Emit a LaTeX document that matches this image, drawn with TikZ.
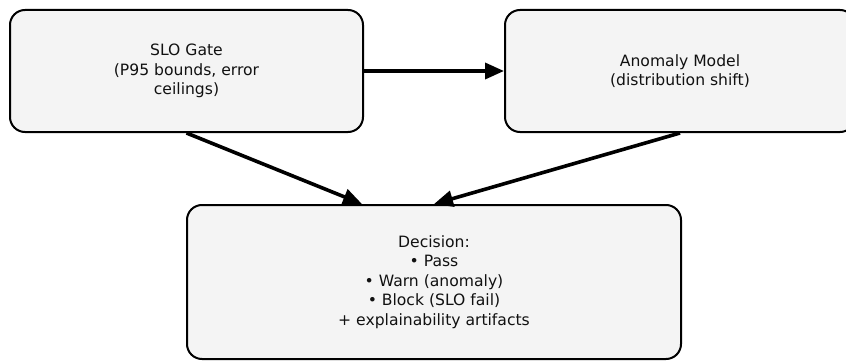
\documentclass[tikz,border=0pt]{standalone}
\usepackage{fontspec}
\setmainfont{DejaVu Sans}
\usetikzlibrary{arrows.meta}
\definecolor{boxfill}{HTML}{F4F4F4}
\definecolor{ink}{HTML}{111111}
\tikzset{
  stagebox/.style={draw=black, line width=2pt, fill=boxfill, rounded corners=15pt,
    align=center, inner sep=0pt, text=ink,
    font=\fontsize{15.6}{19.5}\selectfont},
  flow/.style={line width=3.6pt, -{Triangle[length=19pt,width=16pt]}}
}
\begin{document}
\begin{tikzpicture}[x=1pt,y=-1pt]
  \clip (0,0) rectangle (846,361);
  \fill[white] (0,0) rectangle (846,361);
  % upper row of boxes
  \node[stagebox, minimum width=353pt, minimum height=122pt] (slo) at (186.5,71)
    {SLO Gate\\(P95 bounds, error\\ceilings)};
  \node[stagebox, minimum width=350pt, minimum height=122pt] (anom) at (680,71)
    {Anomaly Model\\(distribution shift)};
  % decision box, bottom edge at the page border
  \node[stagebox, minimum width=494pt, minimum height=154pt] (dec) at (434,282)
    {Decision:\\• Pass\\• Warn (anomaly)\\• Block (SLO fail)\\+ explainability artifacts};
  % connectors
  \coordinate (decl) at ([xshift=-72pt]dec.north);
  \draw[flow] (slo.east) -- (anom.west);
  \draw[flow] (slo.south) -- (decl);
  \draw[flow] (anom.south) -- (dec.north);
\end{tikzpicture}
\end{document}
